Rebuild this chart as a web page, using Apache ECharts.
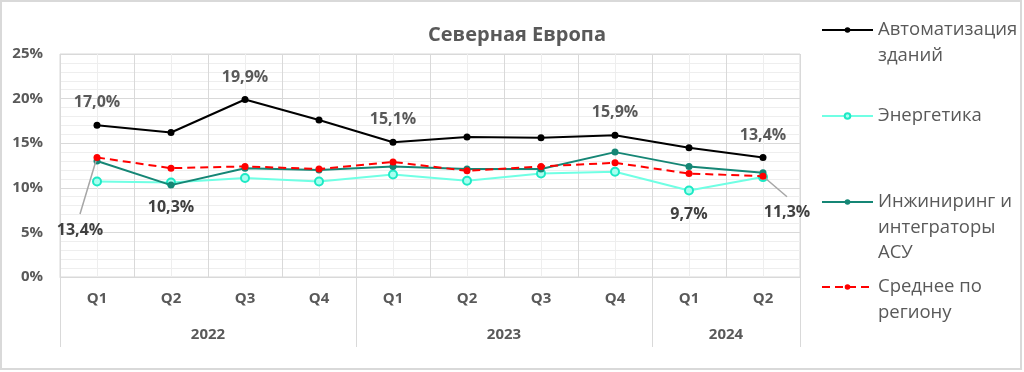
<!DOCTYPE html>
<html><head><meta charset="utf-8">
<script src="https://cdn.jsdelivr.net/npm/echarts@6/dist/echarts.min.js"></script>
<style>html,body{margin:0;padding:0;background:#fff}#c{width:1024px;height:372px}</style>
</head><body><div id="c"></div>
<script>
const quarters = ['Q1','Q2','Q3','Q4','Q1','Q2','Q3','Q4','Q1','Q2'];
const years = ['2022','2023','2024'];
const yearSpans = [4,4,2];
const yTicks = [0,5,10,15,20,25];
const title = 'Северная Европа';
const names = ['Автоматизация\nзданий','Энергетика','Инжиниринг и\nинтеграторы\nАСУ','Среднее по\nрегиону'];
const automation = [17.0,16.2,19.9,17.6,15.1,15.7,15.6,15.9,14.5,13.4];
const energy = [10.7,10.6,11.1,10.7,11.5,10.8,11.6,11.8,9.7,11.2];
const engineering = [13.0,10.3,12.2,12.0,12.4,12.1,12.1,14.0,12.4,11.7];
const average = [13.4,12.2,12.4,12.1,12.9,11.9,12.4,12.8,11.6,11.3];
// which points carry labels
const autoLabels = [0,2,4,7,9];
const engLabels = [1];
const energyLabels = [8];
const avgLabels = [0,9];

const fmt = v => v.toFixed(1).replace('.', ',') + '%';
const GRAY = '#595959', DARK = '#404040';

// year axis positions
const yearCenters = [], yearBounds = [0];
let acc = 0;
yearSpans.forEach(s => { yearCenters.push(acc + s/2); acc += s; yearBounds.push(acc); });

function mk(arr, idxs, labelOpt) {
  return arr.map((v,i) => idxs.indexOf(i) >= 0 ? {value: v, label: Object.assign({show:true}, labelOpt)} : v);
}
const lblFont = {fontFamily:'Open Sans', fontWeight:'bold', fontSize:16};
const axFont = {color:GRAY, fontFamily:'Open Sans', fontWeight:'bold', fontSize:15};

const chart = echarts.init(document.getElementById('c'));
const LH = 25.5;
const legendTops = [30, 116, 202, 287];
const legends = names.map((n,i) => {
  const lines = n.split('\n').length;
  const boxH = LH * (2*lines - 1);
  return {
    data: [n],
    formatter: name => '\n'.repeat(lines-1) + name,
    left: 816, top: legendTops[i] - boxH/2 - 5, orient: 'vertical',
    itemWidth: 51, itemHeight: 7, itemGap: 8, selectedMode: false,
    textStyle: {fontFamily:'Open Sans', fontSize:18.5, color: GRAY, lineHeight: LH}
  };
});

chart.setOption({
  animation: false,
  title: {text: title, left: 512, top: 20, textAlign: 'center',
    textStyle: {fontFamily:'Open Sans', fontWeight:'bold', fontSize:20, color: GRAY}},
  graphic: [{type:'rect', shape:{x:1,y:1,width:1020,height:368}, style:{fill:'none', stroke:'#d9d9d9', lineWidth:2}, silent:true}],
  legend: legends,
  grid: {left: 60, right: 224, top: 54, bottom: 95, show: true, borderColor: '#d9d9d9', borderWidth: 1},
  xAxis: [
    {type:'category', data: quarters, boundaryGap: true,
     axisLine:{show:true, lineStyle:{color:'#d9d9d9'}}, axisTick:{show:false},
     splitLine:{show:true, lineStyle:{color:'#d9d9d9'}},
     axisLabel:Object.assign({margin:14}, axFont)},
    {type:'value', min:0, max:quarters.length, interval:1, position:'bottom',
     axisLine:{show:false},
     axisTick:{show:true, customValues: yearBounds, length:70, inside:false, lineStyle:{color:'#d9d9d9'}},
     splitLine:{show:false},
     minorTick:{show:false, splitNumber:2},
     minorSplitLine:{show:true, lineStyle:{color:'#eeeeee'}},
     axisLabel:Object.assign({customValues: yearCenters, margin:50,
       formatter: v => { const k = yearCenters.indexOf(v); return k>=0 ? years[k] : ''; }}, axFont)}
  ],
  yAxis: {type:'value', min: yTicks[0], max: yTicks[yTicks.length-1], interval: 5,
    axisLine:{show:false}, axisTick:{show:false},
    splitLine:{lineStyle:{color:'#d9d9d9'}},
    minorTick:{show:false, splitNumber:5},
    minorSplitLine:{show:true, lineStyle:{color:'#eeeeee'}},
    axisLabel:Object.assign({formatter: '{value}%', margin:17}, axFont)},
  series: [
    {name: names[0], type:'line', data: mk(automation, autoLabels, Object.assign({position:'top', distance:11, color:GRAY}, lblFont)),
     symbol:'circle', symbolSize:7, itemStyle:{color:'#000'}, lineStyle:{color:'#000', width:2},
     label:{formatter: p => fmt(p.value)}, z:5},
    {name: names[1], type:'line', data: mk(energy, energyLabels, Object.assign({position:'bottom', distance:11, color:DARK}, lblFont)),
     symbol:'circle', symbolSize:8, itemStyle:{color:'#a8fff0', borderColor:'#1de9c5', borderWidth:2},
     lineStyle:{color:'#70ffe4', width:2}, label:{formatter: p => fmt(p.value)}, z:2},
    {name: names[2], type:'line', data: mk(engineering, engLabels, Object.assign({position:'bottom', distance:11, color:DARK}, lblFont)),
     symbol:'circle', symbolSize:7, itemStyle:{color:'#158675'}, lineStyle:{color:'#158675', width:2},
     label:{formatter: p => fmt(p.value)}, z:3},
    {name: names[3], type:'line', data: mk(average, avgLabels, Object.assign({position:'bottom', distance:11, color:DARK, padding:[8,0,0,0], backgroundColor:'rgba(255,255,255,0)'}, lblFont)),
     symbol:'circle', symbolSize:7, itemStyle:{color:'#ff0000'}, lineStyle:{color:'#ff0000', width:2, type:[8,5]},
     label:{formatter: p => fmt(p.value)}, z:4,
     labelLine:{show:true, lineStyle:{color:'#a6a6a6', width:1.5}},
     labelLayout: p => p.dataIndex === 0 ? {dx:-17, dy:42} : (p.dataIndex === 9 ? {dx:24, dy:6} : {})}
  ]
});
</script></body></html>
